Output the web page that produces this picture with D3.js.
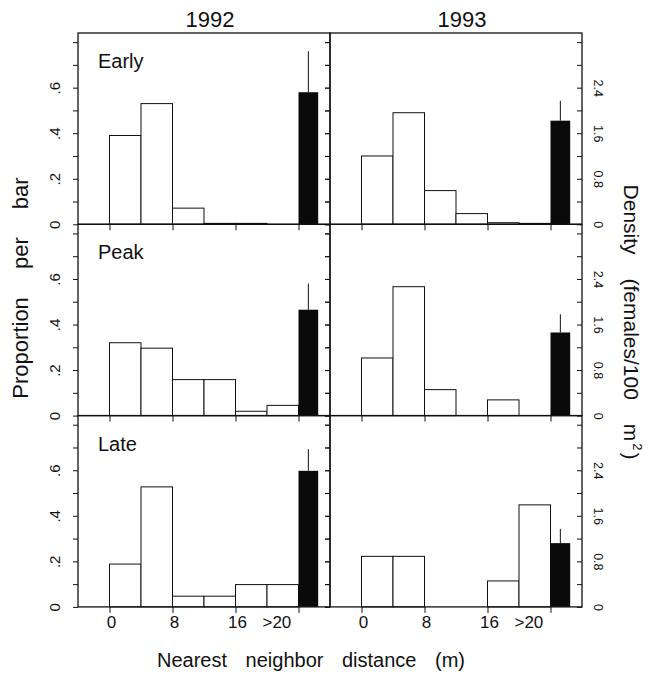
<!DOCTYPE html>
<html>
<head>
<meta charset="utf-8">
<script src="https://cdn.jsdelivr.net/npm/d3@7"></script>
<style>
  body { margin: 0; background: #fff; }
  text { font-family: "Liberation Sans", Arial, sans-serif; fill: #111; }
</style>
</head>
<body>
<div id="chart"></div>
<script>
let w = 650;
let h = 684;
let left = 78;
let top0 = 33;
let panelW = 252;
let panelH = 191.3;

// data
let years = ["1992", "1993"];
let periods = ["Early", "Peak", "Late"];
let binStarts = [0, 4, 8, 12, 16, 20];
let prop1992Early = [0.39, 0.53, 0.071, 0.004, 0.004, 0];
let prop1993Early = [0.30, 0.49, 0.148, 0.047, 0.007, 0.004];
let prop1992Peak = [0.32, 0.296, 0.158, 0.158, 0.019, 0.045];
let prop1993Peak = [0.253, 0.566, 0.114, 0, 0.069, 0];
let prop1992Late = [0.188, 0.527, 0.047, 0.047, 0.098, 0.098];
let prop1993Late = [0.222, 0.222, 0, 0, 0.114, 0.448];
let densityMean1992 = [2.32, 1.86, 2.39];
let densityUpper1992 = [3.04, 2.32, 2.77];
let densityMean1993 = [1.82, 1.46, 1.12];
let densityUpper1993 = [2.17, 1.78, 1.37];

let xTickValues = [0, 8, 16, 24];
let xTickLabels = ["0", "8", "16", ">20"];
let xLabelAt = [0, 8, 16, 21];
let propTicks = [0, 0.1, 0.2, 0.3, 0.4, 0.5, 0.6, 0.7, 0.8];
let propLabels = {"0": "0", "0.2": ".2", "0.4": ".4", "0.6": ".6"};
let densityTicks = [0, 0.4, 0.8, 1.2, 1.6, 2.0, 2.4, 2.8, 3.2];
let densityLabels = {"0": "0", "0.8": "0.8", "1.6": "1.6", "2.4": "2.4"};

let props = {
  "1992": [prop1992Early, prop1992Peak, prop1992Late],
  "1993": [prop1993Early, prop1993Peak, prop1993Late]
};
let dens = {
  "1992": [densityMean1992, densityUpper1992],
  "1993": [densityMean1993, densityUpper1993]
};

let viz = d3.select("#chart")
  .append("svg")
  .attr("width", w)
  .attr("height", h)
  .style("background-color", "white");

let xScale = d3.scaleLinear().domain([-4, 28]).range([0, panelW]);
let yScale = d3.scaleLinear().domain([0, 0.84]).range([panelH, 0]);
let dScale = d3.scaleLinear().domain([0, 3.36]).range([panelH, 0]);

years.forEach((yr, j) => {
  periods.forEach((per, i) => {
    let g = viz.append("g")
      .attr("transform", "translate(" + (left + j * panelW) + "," + (top0 + i * panelH) + ")");

    // bars
    let bins = binStarts.map((b, k) => ({start: b, value: props[yr][i][k]}))
      .filter(d => d.value > 0);
    g.selectAll(".bar").data(bins).enter()
      .append("rect")
      .attr("class", "bar")
      .attr("x", d => xScale(d.start))
      .attr("width", d => xScale(d.start + 4) - xScale(d.start))
      .attr("y", d => yScale(d.value))
      .attr("height", d => yScale(0) - yScale(d.value))
      .attr("fill", "white")
      .attr("stroke", "#111")
      .attr("stroke-width", 1);

    // density bar with error line
    let m = dens[yr][0][i];
    let up = dens[yr][1][i];
    g.append("line")
      .attr("x1", xScale(25.25)).attr("x2", xScale(25.25))
      .attr("y1", dScale(m)).attr("y2", dScale(up))
      .attr("stroke", "#111").attr("stroke-width", 1);
    g.append("rect")
      .attr("x", xScale(24))
      .attr("width", xScale(26.5) - xScale(24))
      .attr("y", dScale(m))
      .attr("height", dScale(0) - dScale(m))
      .attr("fill", "#0a0a0a");

    // frame
    g.append("rect")
      .attr("width", panelW).attr("height", panelH)
      .attr("fill", "none").attr("stroke", "#111").attr("stroke-width", 1.3);

    // x ticks below each panel
    let xAxis = d3.axisBottom(xScale).tickValues(xTickValues).tickSize(6).tickFormat("");
    let xg = g.append("g").attr("transform", "translate(0," + panelH + ")").call(xAxis);
    xg.select(".domain").remove();

    // left ticks (outward)
    let yAxis = d3.axisLeft(yScale).tickValues(propTicks).tickSize(5)
      .tickFormat(d => j == 0 ? (propLabels[String(+d.toFixed(1))] || "") : "");
    let yg = g.append("g").call(yAxis);
    yg.select(".domain").remove();
    yg.selectAll("text")
      .attr("transform", "rotate(-90)")
      .attr("x", 0).attr("y", -23).attr("dy", "0.35em")
      .attr("text-anchor", "middle")
      .style("font-size", "15px")
      .style("font-family", "'Liberation Sans', Arial, sans-serif");

    // right ticks (inward)
    let dAxis = d3.axisRight(dScale).tickValues(densityTicks).tickSize(-5)
      .tickFormat(d => j == 1 ? (densityLabels[String(+d.toFixed(1))] || "") : "");
    let dg = g.append("g").attr("transform", "translate(" + panelW + ",0)").call(dAxis);
    dg.select(".domain").remove();
    dg.selectAll("text")
      .attr("transform", "rotate(90)")
      .attr("x", 0).attr("y", -16).attr("dy", "0.35em")
      .attr("text-anchor", "middle")
      .style("font-size", "12.5px")
      .style("font-family", "'Liberation Sans', Arial, sans-serif");

    g.selectAll(".tick line").attr("stroke", "#111");

    // period label
    if (j == 0) {
      g.append("text")
        .attr("x", 20).attr("y", 35)
        .style("font-size", "20px")
        .text(per);
    }

    // x tick labels on bottom row
    if (i == periods.length - 1) {
      g.selectAll(".xlab").data(xTickLabels).enter()
        .append("text")
        .attr("x", (d, k) => xScale(xLabelAt[k]) + 2)
        .attr("y", panelH + 21)
        .attr("text-anchor", "middle")
        .style("font-size", "17px")
        .text(d => d);
    }
  });

  // year header
  viz.append("text")
    .attr("x", left + j * panelW + panelW / 2 + 6)
    .attr("y", 27)
    .attr("text-anchor", "middle")
    .style("font-size", "22px")
    .text(yr);
});

// axis titles
viz.append("text")
  .attr("transform", "translate(28,288) rotate(-90)")
  .attr("text-anchor", "middle")
  .style("font-size", "22px")
  .style("word-spacing", "22px")
  .text("Proportion per bar");

let rt = viz.append("text")
  .attr("transform", "translate(624,322) rotate(90)")
  .attr("text-anchor", "middle")
  .style("font-size", "21px")
  .style("word-spacing", "18px");
rt.append("tspan").text("Density (females/100 m");
rt.append("tspan").attr("dy", -9).attr("dx", 2).style("font-size", "13px").text("2");
rt.append("tspan").attr("dy", 9).attr("dx", 2).text(")");

viz.append("text")
  .attr("x", 311).attr("y", 667)
  .attr("text-anchor", "middle")
  .style("font-size", "20px")
  .style("word-spacing", "13px")
  .text("Nearest neighbor distance (m)");
</script>
</body>
</html>
